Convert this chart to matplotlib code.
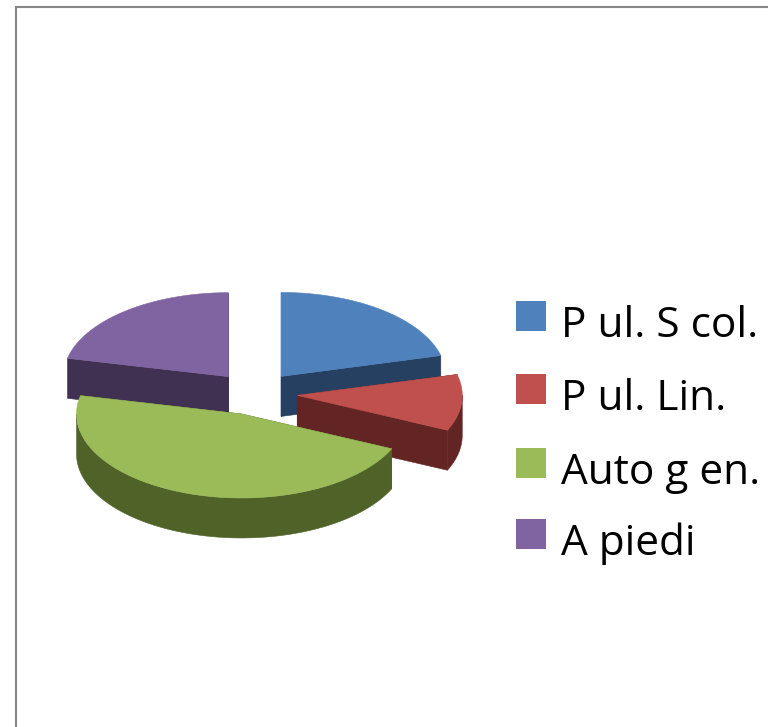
import numpy as np
import matplotlib
matplotlib.use("Agg")
import matplotlib.pyplot as plt
from matplotlib.patches import Polygon, Rectangle

labels = ["P ul. S col.", "P ul. Lin.", "Auto g en.", "A piedi"]
values = [21.0, 10.8, 46.7, 21.5]
top_colors = ["#4F81BD", "#C0504D", "#9BBB59", "#8064A2"]
side_colors = ["#254061", "#632523", "#4F6228", "#403152"]
draw_order = [3, 0, 1, 2]

CX, CY = 255.0, 393.5
RX, RY = 165.0, 84.0
EXPLODE = 42.4
DEPTH = 40.0

fig = plt.figure(figsize=(7.68, 7.27), dpi=100)
ax = fig.add_axes([0, 0, 1, 1])
ax.set_xlim(0, 768)
ax.set_ylim(727, 0)
ax.axis("off")

ax.add_patch(Rectangle((16, 7), 900, 900, facecolor="white", edgecolor="#868686", linewidth=1.5))

edges = np.concatenate([[0], np.cumsum(values)]) / np.sum(values) * 2 * np.pi


def project(cx, cy, t):
    return np.column_stack([cx + RX * np.sin(t), cy - RY * np.cos(t)])


for i in draw_order:
    a0, a1 = edges[i], edges[i + 1]
    mid = (a0 + a1) / 2
    cx = CX + EXPLODE * np.sin(mid)
    cy = CY - EXPLODE * RY / RX * np.cos(mid)
    t = np.linspace(a0, a1, 160)
    arc = project(cx, cy, t)
    apex = np.array([cx, cy])
    down = np.array([0, DEPTH])
    z = 2 + draw_order.index(i)
    for p in (arc[0], arc[-1]):
        quad = [apex, p, p + down, apex + down]
        ax.add_patch(Polygon(quad, closed=True, facecolor=side_colors[i], edgecolor=side_colors[i], linewidth=0.4, zorder=z))
    vis = t[(np.cos(t) <= 0)]
    if vis.size:
        r = project(cx, cy, vis)
        ax.add_patch(Polygon(np.vstack([r, (r + down)[::-1]]), closed=True, facecolor=side_colors[i], edgecolor=side_colors[i], linewidth=0.4, zorder=z))
    ax.add_patch(Polygon(np.vstack([apex, arc]), closed=True, facecolor=top_colors[i], edgecolor=top_colors[i], linewidth=0.4, zorder=z))

legend_box_tops = [301, 374, 448, 519]
legend_baselines = [337, 410, 484, 555]
for lab, col, by, ty in zip(labels, top_colors, legend_box_tops, legend_baselines):
    ax.add_patch(Rectangle((516, by), 30, 30, facecolor=col, edgecolor="none", zorder=10))
    ax.text(561, ty, lab, fontsize=30.5, family="Open Sans", color="black", va="baseline", ha="left", zorder=10)

fig.savefig("out.png", dpi=100)
